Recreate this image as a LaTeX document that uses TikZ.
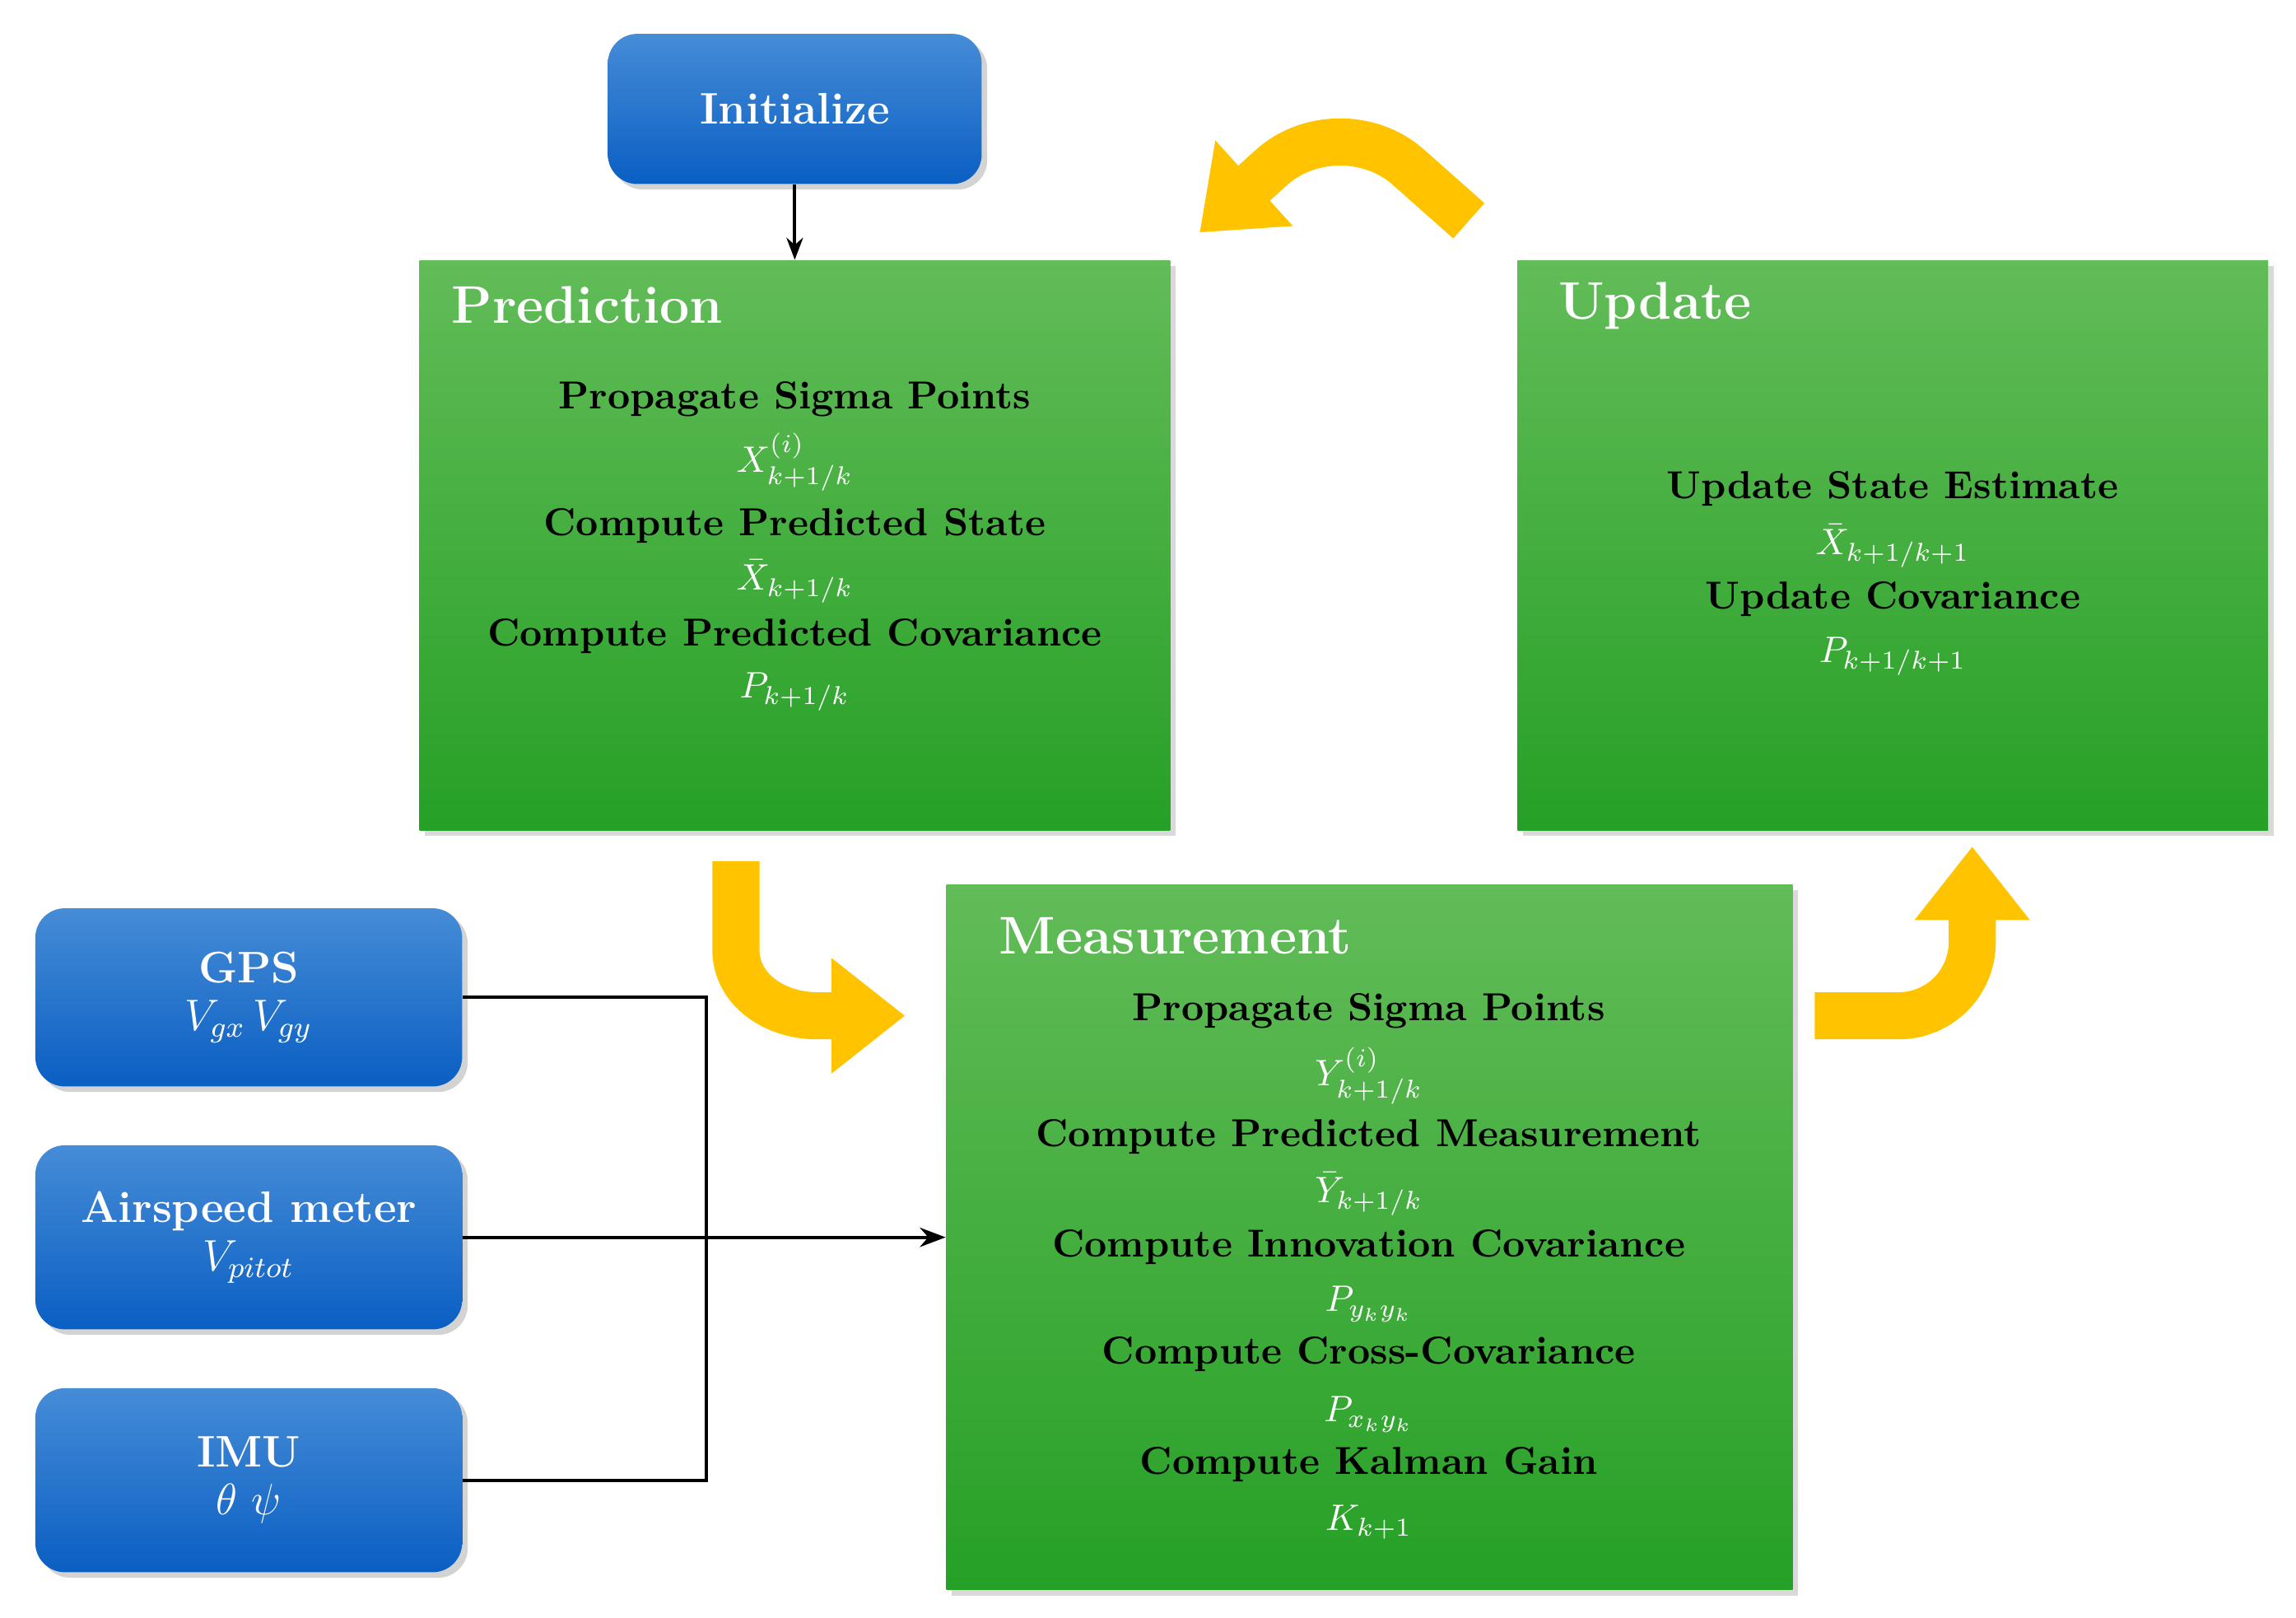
\documentclass[tikz,border=0pt]{standalone}
\usepackage{fontspec}
\usetikzlibrary{shadows,arrows.meta}
\definecolor{gtop}{RGB}{98,188,88}
\definecolor{gbot}{RGB}{38,160,38}
\definecolor{btop}{RGB}{70,140,215}
\definecolor{bbot}{RGB}{10,95,195}
\definecolor{yel}{RGB}{255,195,0}
\begin{document}
\begin{tikzpicture}[x=0.4pt,y=-0.4pt,
  gbox/.style={draw=none,top color=gtop,bottom color=gbot,drop shadow={opacity=0.3,shadow xshift=1.5pt,shadow yshift=-1.5pt}},
  bbox/.style={rounded corners=8pt,top color=btop,bottom color=bbot,drop shadow={opacity=0.35,shadow xshift=1.5pt,shadow yshift=-1.5pt},align=center,text=white,font=\bfseries\large},
  ttl/.style={anchor=west,text=white,font=\bfseries\Large},
  bt/.style={font=\bfseries\fontsize{10.6}{12}\selectfont,text=black,inner sep=1pt},
  mt/.style={text=white,font=\normalsize,inner sep=0pt},
  yarr/.style={line width=12.8pt,yel,-{Triangle[length=20pt,width=30pt]}},
  ln/.style={line width=0.9pt}]
\useasboundingbox (0,0) rectangle (1560,1099);
% boxes
\node[bbox,minimum width=101.6pt,minimum height=40.8pt] (init) at (540,74) {Initialize};
\node[gbox,minimum width=204pt,minimum height=154.8pt] (pred) at (540,370.5) {};
\node[gbox,minimum width=204pt,minimum height=154.8pt] (upd) at (1286,370.5) {};
\node[gbox,minimum width=230pt,minimum height=191.6pt] (meas) at (930.5,840.5) {};
\node[bbox,minimum width=116pt,minimum height=48.4pt] (gps) at (169,677.5) {GPS\\[-1pt]{\mdseries$V_{gx}\,V_{gy}$}};
\node[bbox,minimum width=116pt,minimum height=50pt] (air) at (169,840.5) {Airspeed meter\\[-1pt]{\mdseries$V_{pitot}$}};
\node[bbox,minimum width=116pt,minimum height=50pt] (imu) at (169,1005.5) {IMU\\[-1pt]{\mdseries$\theta\ \psi$}};
% titles
\node[ttl] (tp) at (298,207) {Prediction};
\node[ttl] (tu) at (1050,208) {Update};
\node[ttl] (tm) at (670,636) {Measurement};
% prediction text
\node[bt] (p1) at (540,271) {Propagate Sigma Points};
\node[mt] (p2) at (540,314) {$X^{(i)}_{k+1/k}$};
\node[bt] (p3) at (540,357) {Compute Predicted State};
\node[mt] (p4) at (540,395) {$\bar X_{k+1/k}$};
\node[bt] (p5) at (540,432) {Compute Predicted Covariance};
\node[mt] (p6) at (540,470) {$P_{k+1/k}$};
% update text
\node[bt] (u1) at (1286,332) {Update State Estimate};
\node[mt] (u2) at (1286,371) {$\bar X_{k+1/k+1}$};
\node[bt] (u3) at (1286,407) {Update Covariance};
\node[mt] (u4) at (1286,446) {$P_{k+1/k+1}$};
% measurement text
\node[bt] (m1) at (930,687) {Propagate Sigma Points};
\node[mt] (m2) at (930,731) {$Y^{(i)}_{k+1/k}$};
\node[bt] (m3) at (930,772) {Compute Predicted Measurement};
\node[mt] (m4) at (930,811) {$\bar Y_{k+1/k}$};
\node[bt] (m5) at (930,847) {Compute Innovation Covariance};
\node[mt] (m6) at (930,886) {$P_{y_ky_k}$};
\node[bt] (m7) at (930,920) {Compute Cross-Covariance};
\node[mt] (m8) at (930,961) {$P_{x_ky_k}$};
\node[bt] (m9) at (930,995) {Compute Kalman Gain};
\node[mt] (m10) at (930,1034) {$K_{k+1}$};
% connectors
\draw[ln,-{Stealth[length=6pt]}] (init) -- (pred);
\coordinate (jt) at (480,677.5);
\coordinate (jb) at (480,1005.5);
\draw[ln] (gps.east) -- (jt) -- (jb) -- (imu.east);
\draw[ln,-{Stealth[length=7pt]}] (air.east) -- (meas.west);
% yellow arrows
\coordinate (a1s) at (998,150);
\coordinate (a1m) at (910,72);
\coordinate (a1e) at (815,158);
\draw[yarr,rounded corners=25pt] (a1s) -- (a1m) -- (a1e);
\coordinate (a2s) at (500,585);
\coordinate (a2e) at (615,690);
\draw[yarr] (a2s) -- (500,645) to[out=-90,in=180] (555,690) -- (a2e);
\coordinate (a3s) at (1233,690);
\coordinate (a3e) at (1340,575);
\draw[yarr] (a3s) -- (1290,690) to[out=0,in=-90] (1340,640) -- (a3e);
\end{tikzpicture}
\end{document}
